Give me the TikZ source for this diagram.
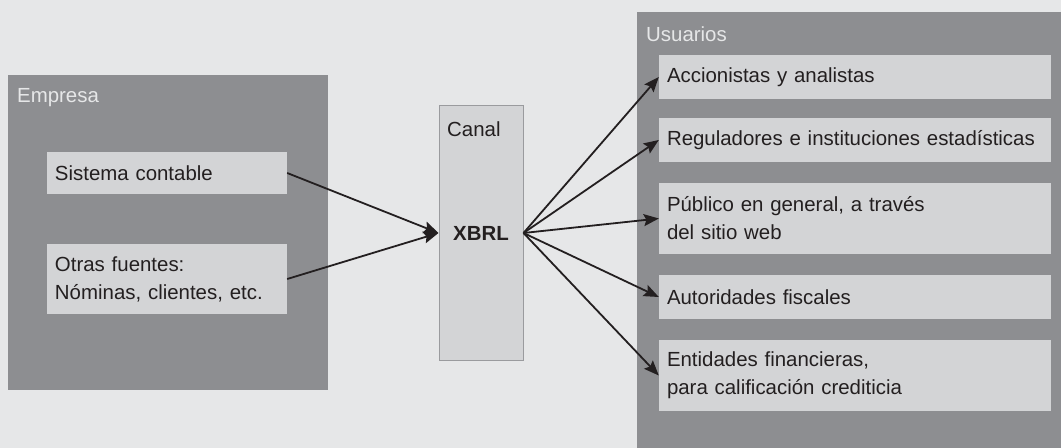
\documentclass[tikz,border=0pt]{standalone}
\usepackage{fontspec}
\setmainfont{Liberation Sans}
\usetikzlibrary{arrows.meta}
\definecolor{bggray}{HTML}{E6E7E8}
\definecolor{darkgray}{HTML}{8D8E91}
\definecolor{lightgray}{HTML}{D3D4D6}
\definecolor{edgegray}{HTML}{9A9B9E}
\definecolor{inkgray}{HTML}{231F20}
\begin{document}
\begin{tikzpicture}
[x=1bp,y=-1bp,
group/.style={fill=darkgray,draw=none,inner sep=0pt},
item/.style={fill=lightgray,draw=none,inner xsep=8bp,inner ysep=0pt,align=left,
text=inkgray,font=\fontsize{20.5}{28}\selectfont},
title/.style={anchor=base west,inner sep=0pt,text=bggray,font=\fontsize{20.5}{28}\selectfont},
arr/.style={-{Stealth[length=15bp,width=12bp,inset=2.5bp]},line width=1.8bp,draw=inkgray}]
       \fill[bggray] (0,0) rectangle (1061,448);
       \useasboundingbox (0,0) rectangle (1061,448);
       \node (empresa) at (168,232.5) [group,minimum width=320bp,minimum height=315bp] {};
       \node (usuarios) at (849,230) [group,minimum width=424bp,minimum height=436bp] {};
       \node at (17,103) [title] {Empresa};
       \node at (646,42) [title] {Usuarios};
       \node (sistema) at (167,173) [item,text width=224bp,minimum height=42bp] {Sistema contable};
       \node (otras) at (167,279) [item,text width=224bp,minimum height=70bp] {Otras fuentes:\\N\'ominas, clientes, etc.};
       \node (canal) at (481,233) [fill=lightgray,draw=edgegray,line width=1bp,minimum width=84bp,minimum height=254bp] {};
       \node at (447,137) [title,text=inkgray] {Canal};
       \node (xbrl) at (481,233) [text=inkgray,font=\fontsize{20.5}{28}\selectfont\bfseries] {XBRL};
       \node (accion) at (855,77) [item,text width=376bp,minimum height=44bp] {Accionistas y analistas};
       \node (regul) at (855,140) [item,text width=376bp,minimum height=44bp] {Reguladores e instituciones estad\'isticas};
       \node (publico) at (855,218.5) [item,text width=376bp,minimum height=71bp] {P\'ublico en general, a trav\'es\\del sitio web};
       \node (fiscal) at (855,297) [item,text width=376bp,minimum height=44bp] {Autoridades fiscales};
       \node (financ) at (855,375.5) [item,text width=376bp,minimum height=71bp] {Entidades financieras,\\para calificaci\'on crediticia};
       \draw[arr] (sistema.east) -- (canal.west);
       \draw[arr] (otras.east) -- (canal.west);
       \foreach \u in {accion,regul,publico,fiscal,financ}
         \draw[arr] (canal.east) -- (\u.west);
    \end{tikzpicture}
\end{document}
